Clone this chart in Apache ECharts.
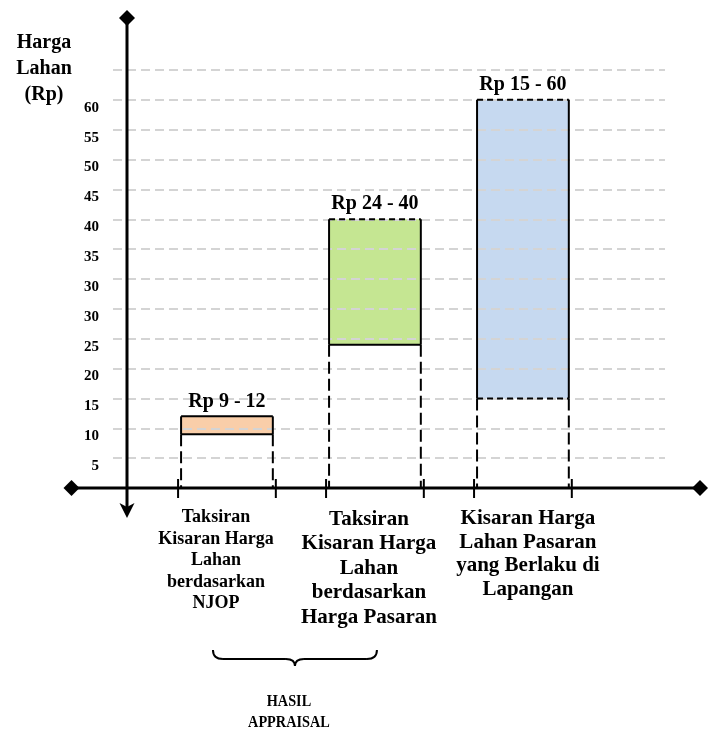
<!DOCTYPE html>
<html>
<head>
<meta charset="utf-8">
<script src="https://cdn.jsdelivr.net/npm/echarts@6/dist/echarts.min.js"></script>
<style>
  html, body { margin: 0; padding: 0; background: #fff; }
  #chart { width: 717px; height: 733px; }
</style>
</head>
<body>
<div id="chart"></div>
<script>
// ---- data ----
const categories = [
  'Taksiran\nKisaran Harga\nLahan\nberdasarkan\nNJOP',
  'Taksiran\nKisaran Harga\nLahan\nberdasarkan\nHarga Pasaran',
  'Kisaran Harga\nLahan Pasaran\nyang Berlaku di\nLapangan'
];
const lowValues = [9, 24, 15];
const highValues = [12, 40, 60];
const yTickLabels = [5, 10, 15, 20, 25, 30, 30, 35, 40, 45, 50, 55, 60];
const yAxisTitle = 'Harga\nLahan\n(Rp)';
const groupTitle = 'HASIL\nAPPRAISAL';

// ---- styles ----
const fills = ['#f9cea9', '#c5e692', '#c6d9f0'];
const topDashed = [false, true, true];
const bottomDashed = [false, false, true];
const catFontSize = [18, 21, 21];
const catLineHeight = [21.5, 24.5, 23.5];
const catShift = [-11, -6, 5];
const SERIF = '"Liberation Serif", "Times New Roman", serif';
const HALF_W = 0.31;

// The value axis is drawn in tick slots (one slot per printed tick label);
// values are placed on it by interpolating between the printed labels.
const tickPositions = [0].concat(yTickLabels.map((_, i) => i + 1));
const tickValues = [0].concat(yTickLabels);
function toSlot(v) {
  for (let k = 0; k < tickValues.length - 1; k++) {
    const a = tickValues[k], b = tickValues[k + 1];
    if (b > a && v >= a && v <= b) {
      return tickPositions[k] + (v - a) / (b - a) * (tickPositions[k + 1] - tickPositions[k]);
    }
  }
  return tickPositions[tickPositions.length - 1];
}

const rangeData = categories.map((c, i) => [i + 1, toSlot(lowValues[i]), toSlot(highValues[i])]);

function fillItem(params, api) {
  const i = params.dataIndex;
  const xc = api.value(0);
  const tl = api.coord([xc - HALF_W, api.value(2)]);
  const br = api.coord([xc + HALF_W, api.value(1)]);
  return {
    type: 'rect',
    shape: { x: tl[0], y: tl[1], width: br[0] - tl[0], height: br[1] - tl[1] },
    style: { fill: fills[i] }
  };
}

function line(x1, y1, x2, y2, dash, w) {
  return {
    type: 'line',
    shape: { x1: x1, y1: y1, x2: x2, y2: y2 },
    style: { stroke: '#000', lineWidth: w || 2, lineDash: dash || null }
  };
}

function outlineItem(params, api) {
  const i = params.dataIndex;
  const xc = api.value(0);
  const tl = api.coord([xc - HALF_W, api.value(2)]);
  const br = api.coord([xc + HALF_W, api.value(1)]);
  const base = api.coord([xc, 0]);
  const x0 = tl[0], x1 = br[0], yT = tl[1], yB = br[1], yA = base[1];
  const children = [
    line(x0, yT, x1, yT, topDashed[i] ? [6, 4] : null),
    line(x0, yB, x1, yB, bottomDashed[i] ? [6, 4] : null),
    line(x0, yT, x0, yB, null, 2),
    line(x1, yT, x1, yB, null, 2),
    line(x0, yB, x0, yA, [12, 5]),
    line(x1, yB, x1, yA, [12, 5]),
    line(x0 - 3, yA - 9, x0 - 3, yA + 10),
    line(x1 + 3, yA - 9, x1 + 3, yA + 10),
    {
      type: 'text',
      style: {
        text: 'Rp ' + lowValues[i] + ' - ' + highValues[i],
        x: (x0 + x1) / 2, y: yT - 5,
        align: 'center', verticalAlign: 'bottom',
        font: 'bold 20px ' + SERIF, fill: '#000'
      }
    },
    {
      type: 'text',
      style: {
        text: categories[i],
        x: base[0] + catShift[i], y: yA + 19,
        align: 'center', verticalAlign: 'top',
        font: 'bold ' + catFontSize[i] + 'px ' + SERIF,
        lineHeight: catLineHeight[i], fill: '#000'
      }
    }
  ];
  return { type: 'group', children: children };
}

const chart = echarts.init(document.getElementById('chart'), null, { renderer: 'canvas' });

chart.setOption({
  animation: false,
  backgroundColor: '#fff',
  grid: { left: 113, right: 52, top: 70, bottom: 245 },
  xAxis: {
    type: 'value', min: 0.23, max: 3.96, show: false
  },
  yAxis: {
    type: 'value', min: 0, max: tickPositions.length, interval: 1, z: 3,
    axisLine: { show: false },
    axisTick: { show: false },
    splitLine: { show: true, lineStyle: { color: '#d4d4d4', width: 2, type: [9, 5] } },
    axisLabel: {
      margin: 14, color: '#000', fontSize: 15, fontWeight: 'bold', fontFamily: SERIF,
      verticalAlign: 'top', lineHeight: 16,
      formatter: function (v) {
        const k = Math.round(v);
        return k >= 1 && k <= yTickLabels.length ? String(yTickLabels[k - 1]) : '';
      }
    }
  },
  series: [
    { type: 'custom', z: 1, clip: false, data: rangeData, renderItem: fillItem },
    { type: 'custom', z: 10, clip: false, data: rangeData, renderItem: outlineItem }
  ]
});

// ---- axes, arrow heads and annotations ----
const axisY = chart.convertToPixel({ yAxisIndex: 0 }, 0);
const AXIS_X = 127;
const c0 = chart.convertToPixel({ xAxisIndex: 0 }, 1) + catShift[0];
const c1 = chart.convertToPixel({ xAxisIndex: 0 }, 2) + catShift[1];

function diamond(x, y, r) {
  return {
    type: 'polygon', z: 30,
    shape: { points: [[x, y - r], [x + r, y], [x, y + r], [x - r, y]] },
    style: { fill: '#000' }
  };
}
function gLine(x1, y1, x2, y2, w) {
  return {
    type: 'line', z: 30,
    shape: { x1: x1, y1: y1, x2: x2, y2: y2 },
    style: { stroke: '#000', lineWidth: w }
  };
}
function qCurve(x1, y1, cx, cy, x2, y2) {
  return {
    type: 'bezierCurve', z: 30,
    shape: { x1: x1, y1: y1, cpx1: cx, cpy1: cy, x2: x2, y2: y2 },
    style: { stroke: '#000', lineWidth: 2, fill: null }
  };
}

// curly brace under the first two categories
const bL = c0 - 3, bR = c1 + 8, bM = (bL + bR) / 2;
const bTop = 650, bMid = 659, bTip = 666;

chart.setOption({
  graphic: [
    gLine(AXIS_X, 18, AXIS_X, 510, 3),
    gLine(71, axisY, 700, axisY, 3),
    diamond(AXIS_X, 18, 8),
    diamond(71.5, axisY, 8),
    diamond(700, axisY, 8),
    {
      type: 'polygon', z: 30,
      shape: { points: [[AXIS_X, 518], [AXIS_X - 7.5, 503], [AXIS_X, 507], [AXIS_X + 7.5, 503]] },
      style: { fill: '#000' }
    },
    {
      type: 'text', z: 30,
      style: {
        text: yAxisTitle, x: 44, y: 30, align: 'center', verticalAlign: 'top',
        font: 'bold 20px ' + SERIF, lineHeight: 26, fill: '#000'
      }
    },
    qCurve(bL, bTop, bL, bMid, bL + 10, bMid),
    gLine(bL + 10, bMid, bM - 9, bMid, 2),
    qCurve(bM - 9, bMid, bM, bMid, bM, bTip),
    qCurve(bM, bTip, bM, bMid, bM + 9, bMid),
    gLine(bM + 9, bMid, bR - 10, bMid, 2),
    qCurve(bR - 10, bMid, bR, bMid, bR, bTop),
    {
      type: 'text', z: 30,
      x: bM - 6, y: 691, scaleX: 0.84,
      style: {
        text: groupTitle, x: 0, y: 0, align: 'center', verticalAlign: 'top',
        font: 'bold 17px ' + SERIF, lineHeight: 21, fill: '#000'
      }
    }
  ]
});
</script>
</body>
</html>
